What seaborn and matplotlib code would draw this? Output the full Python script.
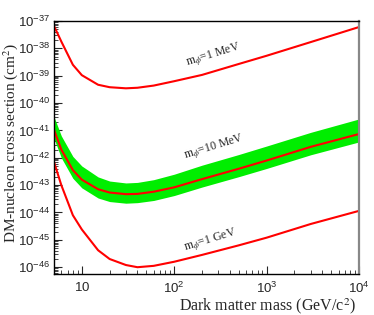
import numpy as np
import pandas as pd
import matplotlib
matplotlib.use("Agg")
import matplotlib.pyplot as plt
import matplotlib.ticker as mticker
import seaborn as sns

# dark matter mass grid (GeV/c^2)
mass = [5, 6, 8, 10, 15, 20, 30, 40, 60, 100, 200, 500, 1000, 3000, 10000]

# log10 of cross section (cm^2)
log_1mev = [-37.18, -37.75, -38.6, -38.98, -39.33, -39.42, -39.46, -39.44,
            -39.36, -39.2, -38.97, -38.57, -38.27, -37.77, -37.22]
log_10mev = [-40.98, -41.7, -42.45, -42.8, -43.15, -43.27, -43.33, -43.32,
             -43.24, -43.08, -42.78, -42.4, -42.1, -41.6, -41.13]
log_10mev_hi = [-40.5, -41.2, -41.95, -42.3, -42.7, -42.85, -42.92, -42.9,
                -42.8, -42.6, -42.27, -41.88, -41.57, -41.07, -40.58]
log_10mev_lo = [-41.3, -42.0, -42.75, -43.1, -43.47, -43.6, -43.66, -43.64,
                -43.56, -43.38, -43.07, -42.69, -42.39, -41.89, -41.42]
log_1gev = [-42.15, -43.0, -44.1, -44.62, -45.38, -45.7, -45.92, -46.0,
            -45.95, -45.8, -45.55, -45.2, -44.92, -44.42, -43.94]

curve_names = ["m$_\\phi$=1 MeV", "m$_\\phi$=10 MeV", "m$_\\phi$=1 GeV"]

x_ticks = [10, 100, 1000, 10000]
x_ticklabels = ["$10$", "$10^2$", "$10^3$", "$10^4$"]
y_exponents = list(range(-46, -36))

df = pd.DataFrame({
    "mass": mass * 3,
    "sigma": [10.0 ** v for v in log_1mev + log_10mev + log_1gev],
    "curve": [n for n in curve_names for _ in mass],
})

sns.set_style("ticks")
plt.rcParams["font.family"] = ["Liberation Serif", "DejaVu Serif"]
plt.rcParams["mathtext.fontset"] = "custom"
plt.rcParams["mathtext.rm"] = "Liberation Sans"
plt.rcParams["mathtext.it"] = "Liberation Sans:italic"

fig = plt.figure(figsize=(3.74, 3.15), dpi=100)
ax = fig.add_axes([0.1444, 0.130, 0.8156, 0.8033])

ax.set_xscale("log")
ax.set_yscale("log")

ax.fill_between(mass, [10.0 ** v for v in log_10mev_lo],
                [10.0 ** v for v in log_10mev_hi],
                color="#00ee00", linewidth=0, zorder=1)

sns.lineplot(data=df, x="mass", y="sigma", units="curve", estimator=None,
             color="#ff0000", linewidth=1.5, ax=ax, zorder=2)

ax.set_xlim(5, 10000)
ax.set_ylim(10 ** -46.25, 1e-37)

# tick setup
ax.set_xticks(x_ticks)
ax.set_xticklabels(x_ticklabels)
ax.xaxis.set_minor_locator(mticker.LogLocator(base=10, subs=np.arange(2, 10), numticks=20))
ax.xaxis.set_minor_formatter(mticker.NullFormatter())
ax.set_yticks([10.0 ** e for e in y_exponents])
ax.set_yticklabels([f"$10^{{{e}}}$" for e in y_exponents])
ax.yaxis.set_minor_locator(mticker.LogLocator(base=10, subs=np.arange(2, 10), numticks=20))
ax.yaxis.set_minor_formatter(mticker.NullFormatter())

ax.tick_params(axis="both", which="major", direction="in", length=6, width=0.8,
               labelsize=9.5, pad=3)
ax.tick_params(axis="x", which="major", pad=5)
ax.tick_params(axis="both", which="minor", direction="in", length=3, width=0.6)

for s in ["left", "bottom", "top"]:
    ax.spines[s].set_color("black")
    ax.spines[s].set_linewidth(1.0)
ax.spines["right"].set_color("#888888")
ax.spines["right"].set_linewidth(1.6)

ax.set_xlabel("Dark matter mass (GeV/c$^2$)", fontsize=11.5,
              math_fontfamily="stix", ha="right", va="top")
ax.xaxis.set_label_coords(0.99, -0.088)
ax.set_ylabel("DM-nucleon cross section (cm$^2$)", fontsize=11,
              math_fontfamily="stix")
ax.yaxis.set_label_coords(-0.112, 0.52)

# curve labels
label_pos = [(214, 56), (214, 148), (211, 241)]
for name, (px, py) in zip(curve_names, label_pos):
    fig.text(px / 374, 1 - py / 315, name, fontsize=8.5, rotation=17,
             ha="center", va="center", math_fontfamily="stix")

fig.savefig("out.png", dpi=100)
